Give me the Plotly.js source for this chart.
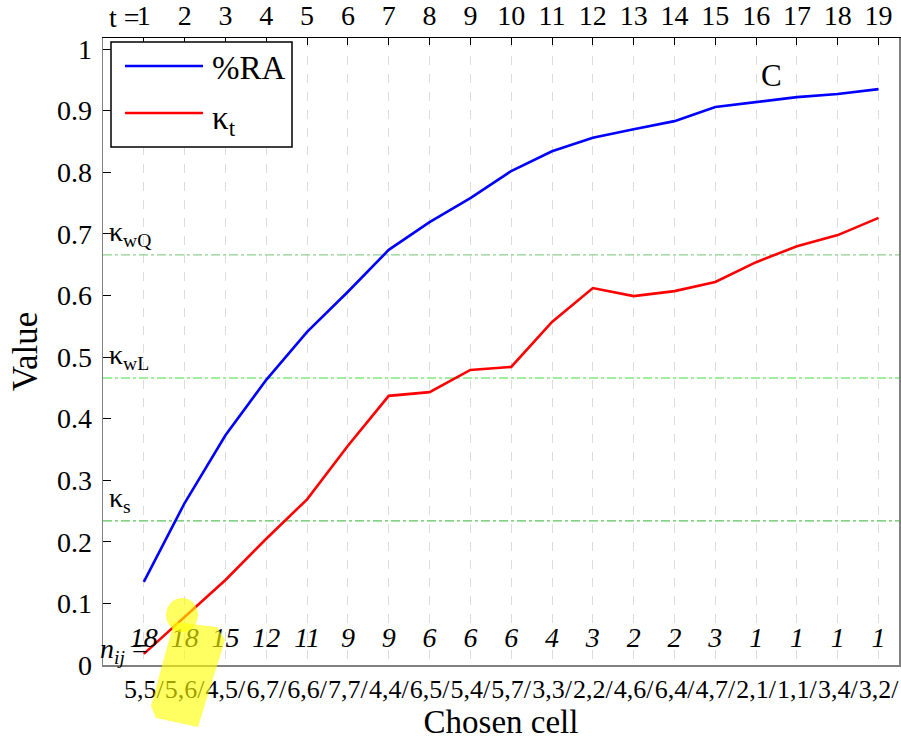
<!DOCTYPE html>
<html>
<head>
<meta charset="utf-8">
<script src="https://cdn.plot.ly/plotly-3.0.1.min.js"></script>
<style>html,body{margin:0;padding:0;background:#fff;}#chart{width:901px;height:740px;}</style>
</head>
<body>
<div id="chart"></div>
<script>
// ---- data ----
const steps = [1,2,3,4,5,6,7,8,9,10,11,12,13,14,15,16,17,18,19];
const chosenCells = ["5,5/","5,6/","4,5/","6,7/","6,6/","7,7/","4,4/","6,5/","5,4/","5,7/","3,3/","2,2/","4,6/","6,4/","4,7/","2,1/","1,1/","3,4/","3,2/"];
const nij = [18,18,15,12,11,9,9,6,6,6,4,3,2,2,3,1,1,1,1];
const pctRA = [0.135,0.263,0.373,0.463,0.541,0.606,0.674,0.719,0.758,0.802,0.834,0.856,0.870,0.883,0.906,0.914,0.922,0.927,0.935];
const kappaT = [0.018,0.078,0.138,0.205,0.269,0.356,0.437,0.443,0.479,0.484,0.557,0.612,0.599,0.607,0.622,0.654,0.680,0.698,0.726];
const refNames = ["κ<sub>wQ</sub>","κ<sub>wL</sub>","κ<sub>s</sub>"];
const refValues = [0.666,0.466,0.234];
const refColors = ["#8fcf8f","#3ee03e","#5cc45c"];
const yTicks = [0,0.1,0.2,0.3,0.4,0.5,0.6,0.7,0.8,0.9,1];
const yTickText = ["0","0.1","0.2","0.3","0.4","0.5","0.6","0.7","0.8","0.9","1"];

const FONT = "Liberation Serif";
const xRange = [0, 19.5];
const yRange = [0, 1.018];

const traces = [];
refValues.forEach((v,i)=>{
  traces.push({x:[xRange[0], xRange[1]], y:[v,v], mode:'lines', xaxis:'x', yaxis:'y',
    line:{color:refColors[i], width:1.2, dash:'dashdot'}, showlegend:false, hoverinfo:'skip'});
});
traces.push({x:steps, y:pctRA, mode:'lines', name:'%RA', line:{color:'#0000ff', width:2.6}, showlegend:false});
traces.push({x:steps, y:kappaT, mode:'lines', name:'κt', line:{color:'#ff0000', width:2.6}, showlegend:false});
traces.push({x:steps, y:steps.map(()=>0.040), mode:'text', text:nij.map(n=>'<i>'+n+'</i>'),
  textfont:{family:FONT, size:28, color:'#000'}, textposition:'middle center', showlegend:false, hoverinfo:'skip'});
traces.push({x:steps, y:steps.map(()=>null), xaxis:'x2', yaxis:'y', mode:'lines', showlegend:false, hoverinfo:'skip'});

const L=103, T=38, W=796, H=627;
const px = x => (x-L)/W;
const py = y => (T+H-y)/H;
function pathFromPixels(pts){
  return 'M ' + pts.map(p=>px(p[0]).toFixed(4)+','+py(p[1]).toFixed(4)).join(' L ') + ' Z';
}

const shapes = [
  {type:'circle', xref:'paper', yref:'paper', x0:px(166), x1:px(198), y0:py(632), y1:py(598),
    fillcolor:'rgba(255,255,0,0.62)', line:{width:0}, layer:'above'},
  {type:'path', xref:'paper', yref:'paper', path:pathFromPixels([[174,622],[217,627],[225,640],[198,727],[156,718],[151,706]]),
    fillcolor:'rgba(255,255,0,0.62)', line:{width:0}, layer:'above'},
  {type:'rect', xref:'paper', yref:'paper', x0:px(111), x1:px(292), y0:py(147), y1:py(42),
    fillcolor:'#fff', line:{color:'#000', width:1.5}, layer:'above'},
  {type:'line', xref:'paper', yref:'paper', x0:px(125), x1:px(203), y0:py(66), y1:py(66),
    line:{color:'#0000ff', width:2.6}, layer:'above'},
  {type:'line', xref:'paper', yref:'paper', x0:px(125), x1:px(203), y0:py(113), y1:py(113),
    line:{color:'#ff0000', width:2.6}, layer:'above'},
];

const annotations = [
  {xref:'paper', yref:'paper', x:px(210), y:py(68), xanchor:'left', yanchor:'middle', text:'%RA', showarrow:false,
    font:{family:FONT, size:33, color:'#000'}},
  {xref:'paper', yref:'paper', x:px(210), y:py(120), xanchor:'left', yanchor:'middle', text:'κ<sub>t</sub>', showarrow:false,
    font:{family:FONT, size:33, color:'#000'}},
  {xref:'paper', yref:'paper', x:px(771), y:py(76), xanchor:'center', yanchor:'middle', text:'C', showarrow:false,
    font:{family:FONT, size:31, color:'#000'}},
  {xref:'paper', yref:'paper', x:px(142), y:py(18), xanchor:'right', yanchor:'middle', text:'t =', showarrow:false,
    font:{family:FONT, size:28, color:'#000'}},
  {xref:'paper', yref:'paper', x:px(150), y:py(650), xanchor:'right', yanchor:'middle', text:'<i>n<sub>ij</sub></i> =', showarrow:false,
    font:{family:FONT, size:28, color:'#000'}},
];
refValues.forEach((v,i)=>{
  annotations.push({xref:'paper', yref:'y', x:px(107), y:v, xanchor:'left', yanchor:'bottom', yshift:2,
    text:refNames[i], showarrow:false, font:{family:FONT, size:28, color:'#000'}});
});

const layout = {
  width:901, height:740,
  margin:{l:L, r:901-L-W, t:T, b:740-T-H},
  paper_bgcolor:'#fff', plot_bgcolor:'#fff',
  showlegend:false,
  font:{family:FONT, color:'#000'},
  xaxis:{range:xRange, tickvals:steps, ticktext:chosenCells, tickfont:{family:FONT, size:26, color:'#000'}, tickangle:0,
    showgrid:true, gridcolor:'#dcdcdc', griddash:'dash', gridwidth:1,
    ticks:'', showline:true, linecolor:'#808080', linewidth:1.5, zeroline:false, ticklabelstandoff:0,
    title:{text:'Chosen cell', font:{family:FONT, size:33, color:'#000'}, standoff:4}, automargin:false},
  xaxis2:{range:xRange, overlaying:'x', side:'top', tickvals:steps, ticktext:steps.map(String), tickangle:0,
    tickfont:{family:FONT, size:28, color:'#000'}, ticks:'inside', ticklen:7, tickcolor:'#000',
    showline:true, linecolor:'#000', linewidth:1.5, showgrid:false, zeroline:false, automargin:false},
  yaxis:{range:yRange, tickvals:yTicks, ticktext:yTickText, tickfont:{family:FONT, size:28, color:'#000'},
    ticks:'inside', ticklen:8, tickcolor:'#000', showline:true, linecolor:'#808080', linewidth:1.5, mirror:true,
    showgrid:false, zeroline:false, ticklabelstandoff:4,
    title:{text:'Value', font:{family:FONT, size:35, color:'#000'}, standoff:8}, automargin:false},
  shapes:shapes,
  annotations:annotations
};

Plotly.newPlot('chart', traces, layout, {displayModeBar:false, staticPlot:true});
</script>
</body>
</html>
